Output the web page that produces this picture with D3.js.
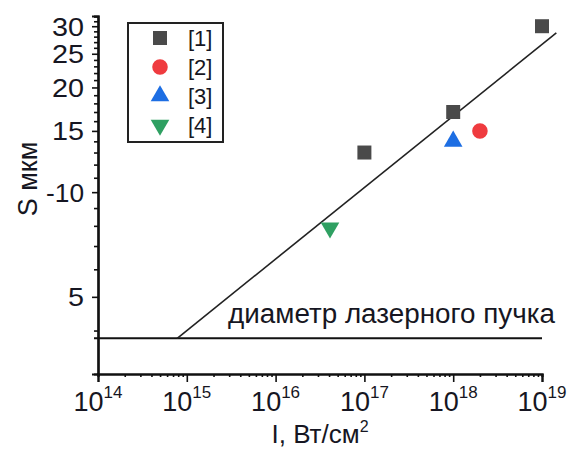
<!DOCTYPE html>
<html>
<head>
<meta charset="utf-8">
<script src="https://cdn.jsdelivr.net/npm/d3@7"></script>
<style>
  html, body { margin: 0; padding: 0; background: #fff; }
  svg { display: block; font-family: "Liberation Sans", Arial, sans-serif; }
  text { fill: #161622; }
</style>
</head>
<body>
<svg id="chart" width="573" height="457"></svg>
<script>
// Intensity (W/cm^2) vs. crater size S (µm), log-log
const xTickExps = [14, 15, 16, 17, 18, 19];
const yTickValues = [5, 10, 15, 20, 25, 30];
const yTickLabels = ["5", "-10", "15", "20", "25", "30"];
const xDomain = [1e14, 1e19];
const yDomain = [3, 32.1];

const seriesNames = ["[1]", "[2]", "[3]", "[4]"];
const seriesColors = ["#4a4a4a", "#ef3b3f", "#1d6ee3", "#2fa062"];

const s1I = [1e17, 1e18, 1e19];
const s1S = [13, 17, 30];
const s2I = [2e18];
const s2S = [15];
const s3I = [1e18];
const s3S = [14];
const s4I = [4.1e16];
const s4S = [7.9];

// power-law trend line and laser beam diameter level
const fitI = [7.8e14, 1.45e19];
const fitS = [3.8, 28.7];
const beamI = [1e14, 1e19];
const beamS = 3.8;
const beamLabel = "диаметр лазерного пучка";

const xTitle = "I, Вт/см";
const yTitle = "S мкм";

const svg = d3.select("#chart");
const x = d3.scaleLog().domain(xDomain).range([98, 542]);
const y = d3.scaleLog().domain(yDomain).range([374, 16]);

// symbol generators
const shapes = [
  d3.symbol().type(d3.symbolSquare).size(196),
  d3.symbol().type(d3.symbolCircle).size(190),
  d3.symbol().type(d3.symbolTriangle).size(150),
  d3.symbol().type(d3.symbolTriangle).size(150)
];
const rotations = [0, 0, 0, 180];

// --- axes ---
const xAxisG = svg.append("g").attr("transform", `translate(0,${y(yDomain[0])})`);
const xMinor = [];
for (let e = 14; e < 19; e++) for (let m = 2; m <= 9; m++) xMinor.push(m * Math.pow(10, e));
xAxisG.call(d3.axisBottom(x).tickValues(xMinor).tickSize(3).tickFormat(""));
xAxisG.append("g").call(d3.axisBottom(x).tickValues(xTickExps.map(e => Math.pow(10, e))).tickSize(8).tickFormat(""));
xAxisG.selectAll("path.domain").attr("stroke", "#111").attr("stroke-width", 2.2);
xAxisG.selectAll("line").attr("stroke", "#111").attr("stroke-width", 1.6);

const yAxisG = svg.append("g").attr("transform", `translate(${x(xDomain[0])},0)`);
const yMinor = d3.range(4, 33).filter(v => !yTickValues.includes(v));
yAxisG.call(d3.axisLeft(y).tickValues(yMinor).tickSize(4).tickFormat(""));
yAxisG.append("g").call(d3.axisLeft(y).tickValues(yTickValues).tickSize(6).tickFormat(""));
yAxisG.selectAll("path.domain").attr("stroke", "#111").attr("stroke-width", 2.2);
yAxisG.selectAll("line").attr("stroke", "#111").attr("stroke-width", 1.6);

// y tick labels (digits drawn slightly wide, the dash narrow)
const labelWidth = s => s.replace("-", "").length * 16 + (s.includes("-") ? 6 : 0);
svg.append("g").selectAll("text").data(yTickValues).join("text")
  .attr("x", 84)
  .attr("y", d => y(d))
  .attr("dy", "0.36em")
  .attr("text-anchor", "end")
  .attr("font-size", 26)
  .attr("textLength", (d, i) => labelWidth(yTickLabels[i]))
  .attr("lengthAdjust", "spacingAndGlyphs")
  .text((d, i) => yTickLabels[i]);

// x tick labels 10^n
const xl = svg.append("g").selectAll("text").data(xTickExps).join("text")
  .attr("x", d => x(Math.pow(10, d)))
  .attr("y", 411)
  .attr("text-anchor", "middle")
  .attr("font-size", 27);
xl.append("tspan").text("10");
xl.append("tspan").attr("font-size", 17).attr("dy", -13).text(d => d);

// axis titles
const xt = svg.append("text")
  .attr("x", (x.range()[0] + x.range()[1]) / 2)
  .attr("y", 443)
  .attr("text-anchor", "middle")
  .attr("font-size", 26);
xt.append("tspan").text(xTitle);
xt.append("tspan").attr("font-size", 16).attr("dy", -11).text("2");

svg.append("text")
  .attr("transform", "translate(37,179) rotate(-90)")
  .attr("text-anchor", "middle")
  .attr("font-size", 27)
  .text(yTitle);

// laser beam diameter line
svg.append("line")
  .attr("x1", x(beamI[0]) - 4).attr("x2", x(beamI[1]))
  .attr("y1", y(beamS)).attr("y2", y(beamS))
  .attr("stroke", "#111").attr("stroke-width", 2);

svg.append("text")
  .attr("x", x(beamI[1]) + 13)
  .attr("y", y(beamS) - 15)
  .attr("text-anchor", "end")
  .attr("font-size", 27)
  .attr("textLength", 327)
  .attr("lengthAdjust", "spacingAndGlyphs")
  .text(beamLabel);

// trend line
svg.append("path")
  .datum(fitI.map((v, i) => [v, fitS[i]]))
  .attr("d", d3.line().x(d => x(d[0])).y(d => y(d[1])))
  .attr("fill", "none")
  .attr("stroke", "#222")
  .attr("stroke-width", 1.6);

// data points
const allI = [s1I, s2I, s3I, s4I];
const allS = [s1S, s2S, s3S, s4S];
allI.forEach((xs, k) => {
  svg.append("g").selectAll("path").data(xs.map((v, i) => [v, allS[k][i]])).join("path")
    .attr("d", shapes[k]())
    .attr("fill", seriesColors[k])
    .attr("transform", d => `translate(${x(d[0])},${y(d[1])}) rotate(${rotations[k]})`);
});

// legend
const lg = svg.append("g");
lg.append("rect")
  .attr("x", 128).attr("y", 23).attr("width", 95).attr("height", 119)
  .attr("fill", "#fff").attr("stroke", "#222").attr("stroke-width", 2);
const rows = lg.selectAll("g.row").data(seriesNames).join("g")
  .attr("class", "row")
  .attr("transform", (d, i) => `translate(0,${38 + i * 29})`);
rows.append("path")
  .attr("d", (d, i) => shapes[i]())
  .attr("fill", (d, i) => seriesColors[i])
  .attr("transform", (d, i) => `translate(160,0) rotate(${rotations[i]})`);
rows.append("text")
  .attr("x", 188)
  .attr("dy", "0.36em")
  .attr("font-size", 22)
  .text(d => d);
</script>
</body>
</html>
